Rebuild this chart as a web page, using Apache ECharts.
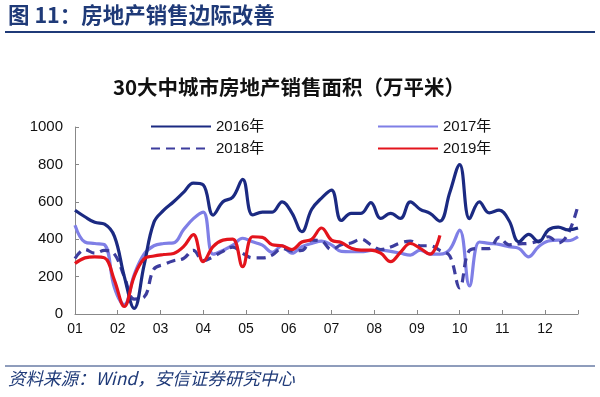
<!DOCTYPE html>
<html>
<head>
<meta charset="utf-8">
<script src="https://cdn.jsdelivr.net/npm/echarts@6/dist/echarts.min.js"></script>
<style>
  html, body { margin: 0; padding: 0; background: #fff; }
  #main { width: 600px; height: 397px; }
</style>
</head>
<body>
<div id="main"></div>
<script>
// 周度数据（每年52周），x 为周序号
var monthLabels = ['01','02','03','04','05','06','07','08','09','10','11','12'];
var sales2016 = [555,520,490,480,415,200,30,260,490,555,600,650,700,690,529,600,625,720,530,545,545,600,540,440,560,620,
                 662,500,538,538,596,511,538,511,600,560,538,497,650,799,510,600,541,555,500,386,426,386,450,465,450,460];
var sales2017 = [475,385,377,370,140,50,210,320,365,377,380,450,510,545,320,340,368,405,386,368,330,365,325,360,377,390,
                 370,335,333,333,340,342,335,325,315,342,320,320,345,449,150,385,378,372,360,351,306,360,390,395,392,413];
var sales2018 = [297,345,325,340,320,200,80,90,240,265,285,297,340,285,306,335,358,325,300,300,315,350,338,340,395,390,
                 345,370,380,400,370,345,358,380,390,365,365,340,310,140,340,350,350,410,370,375,378,390,413,380,430,580];
var sales2019 = [270,300,306,300,180,40,200,295,310,318,324,360,425,280,360,395,400,253,413,410,370,365,345,385,400,460,
                 395,382,352,342,342,325,280,330,377,351,320,420];

var weekStep = 52 / 12;

function toPoints(arr) {
    return arr.map(function (v, i) { return [i, v]; });
}

var myChart = echarts.init(document.getElementById('main'));

var navy = '#1B2A82';
var lightPurple = '#7F7FE6';
var dashBlue = '#3D3D9E';
var red = '#E3141C';

function legendAt(name, left, top) {
    return {
        data: [name],
        left: left,
        top: top,
        itemWidth: 60,
        itemHeight: 12,
        itemGap: 5,
        itemStyle: { opacity: 0 },
        textStyle: { fontSize: 15, color: '#111', fontFamily: 'Arial, "Noto Sans CJK SC", sans-serif' }
    };
}

var option = {
    animation: false,
    backgroundColor: '#fff',
    title: {
        text: '30大中城市房地产销售面积（万平米）',
        left: 284,
        textAlign: 'center',
        top: 72,
        textStyle: { fontSize: 20.5, fontWeight: 'bold', color: '#111', fontFamily: '"Noto Sans CJK SC", sans-serif' }
    },
    graphic: [
        {
            type: 'text', left: 8, top: 4,
            style: { text: '图 11：房地产销售边际改善', fontSize: 21.5, fontWeight: 'bold', fill: '#1F3A78',
                     fontFamily: '"Noto Sans CJK SC", sans-serif' }
        },
        {
            type: 'line', shape: { x1: 5, y1: 32, x2: 595, y2: 32 },
            style: { stroke: '#1F3A78', lineWidth: 2 }
        },
        {
            type: 'line', shape: { x1: 5, y1: 366, x2: 595, y2: 366 },
            style: { stroke: '#1F3A78', lineWidth: 1 }
        },
        {
            type: 'text', left: 8, top: 370,
            style: { text: '资料来源：Wind，安信证券研究中心', fontSize: 17.5, fontStyle: 'italic', fill: '#1F3A78',
                     fontFamily: '"Noto Sans CJK SC", sans-serif' }
        }
    ],
    legend: [
        legendAt('2016年', 145, 114),
        legendAt('2017年', 372, 114),
        legendAt('2018年', 145, 136),
        legendAt('2019年', 372, 136)
    ],
    grid: { left: 75, right: 22, top: 127, bottom: 83 },
    xAxis: {
        type: 'value',
        min: 0,
        max: 51,
        interval: weekStep,
        splitLine: { show: false },
        axisLine: { lineStyle: { color: '#888', width: 1 } },
        axisTick: { inside: true, length: 4, lineStyle: { color: '#888' } },
        axisLabel: {
            fontSize: 14,
            color: '#111',
            margin: 8,
            fontFamily: 'Arial, sans-serif',
            formatter: function (v) {
                var idx = Math.round(v / weekStep);
                if (Math.abs(v - idx * weekStep) > 0.01 || idx > 11) return '';
                return monthLabels[idx];
            }
        }
    },
    yAxis: {
        type: 'value',
        min: 0,
        max: 1000,
        interval: 200,
        splitLine: { show: false },
        axisLine: { show: true, lineStyle: { color: '#888', width: 1 } },
        axisTick: { show: true, inside: true, length: 4, lineStyle: { color: '#888' } },
        axisLabel: { fontSize: 15, color: '#111', margin: 12, fontFamily: 'Arial, sans-serif',
                     formatter: function (v) { return String(v); } }
    },
    series: [
        {
            name: '2016年', type: 'line', data: toPoints(sales2016), smooth: 0.4, symbol: 'none',
            lineStyle: { color: navy, width: 3.2 }, itemStyle: { color: navy }, z: 4
        },
        {
            name: '2017年', type: 'line', data: toPoints(sales2017), smooth: 0.4, symbol: 'none',
            lineStyle: { color: lightPurple, width: 3.2 }, itemStyle: { color: lightPurple }, z: 2
        },
        {
            name: '2018年', type: 'line', data: toPoints(sales2018), smooth: 0.4, symbol: 'none',
            lineStyle: { color: dashBlue, width: 3.2, type: [9, 6] }, itemStyle: { color: dashBlue }, z: 3
        },
        {
            name: '2019年', type: 'line', data: toPoints(sales2019), smooth: 0.4, symbol: 'none',
            lineStyle: { color: red, width: 3.2 }, itemStyle: { color: red }, z: 5
        }
    ]
};

myChart.setOption(option);
</script>
</body>
</html>
